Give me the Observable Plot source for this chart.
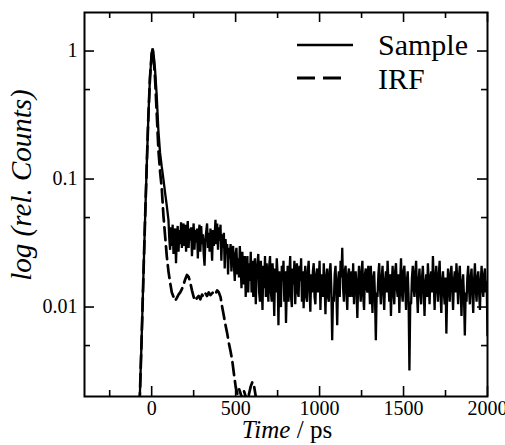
<!DOCTYPE html>
<html><head><meta charset="utf-8">
<script src="https://cdn.jsdelivr.net/npm/d3@7"></script>
<script src="https://cdn.jsdelivr.net/npm/@observablehq/plot@0.6"></script>
<style>body{margin:0;background:#fff}</style>
</head><body><div id="chart"></div>
<script>
// ---- data ----
const sampleTime = [-80,-70,-60,-50,-40,-30,-20,-10,0,5,10,20,30,40,50,60,70,80,90,100,
105,110,115,120,125,130,135,140,145,150,155,160,165,170,175,180,185,190,195,200,
205,210,215,220,225,230,235,240,245,250,255,260,265,270,275,280,285,290,295,300,
305,310,315,320,325,330,335,340,345,350,355,360,365,370,375,380,385,390,395,400,
405,410,415,420,425,430,435,440,445,450,455,460,465,470,475,480,485,490,495,500,
505,510,515,520,525,530,535,540,545,550,555,560,565,570,575,580,585,590,595,600,
605,610,615,620,625,630,635,640,645,650,655,660,665,670,675,680,685,690,695,700,
705,710,715,720,725,730,735,740,745,750,755,760,765,770,775,780,785,790,795,800,
805,810,815,820,825,830,835,840,845,850,855,860,865,870,875,880,885,890,895,900,
905,910,915,920,925,930,935,940,945,950,955,960,965,970,975,980,985,990,995,1000,
1005,1010,1015,1020,1025,1030,1035,1040,1045,1050,1055,1060,1065,1070,1075,1080,1085,1090,1095,1100,
1105,1110,1115,1120,1125,1130,1135,1140,1145,1150,1155,1160,1165,1170,1175,1180,1185,1190,1195,1200,
1205,1210,1215,1220,1225,1230,1235,1240,1245,1250,1255,1260,1265,1270,1275,1280,1285,1290,1295,1300,
1305,1310,1315,1320,1325,1330,1335,1340,1345,1350,1355,1360,1365,1370,1375,1380,1385,1390,1395,1400,
1405,1410,1415,1420,1425,1430,1435,1440,1445,1450,1455,1460,1465,1470,1475,1480,1485,1490,1495,1500,
1505,1510,1515,1520,1525,1530,1535,1540,1545,1550,1555,1560,1565,1570,1575,1580,1585,1590,1595,1600,
1605,1610,1615,1620,1625,1630,1635,1640,1645,1650,1655,1660,1665,1670,1675,1680,1685,1690,1695,1700,
1705,1710,1715,1720,1725,1730,1735,1740,1745,1750,1755,1760,1765,1770,1775,1780,1785,1790,1795,1800,
1805,1810,1815,1820,1825,1830,1835,1840,1845,1850,1855,1860,1865,1870,1875,1880,1885,1890,1895,1900,
1905,1910,1915,1920,1925,1930,1935,1940,1945,1950,1955,1960,1965,1970,1975,1980,1985,1990,1995,2000];
const sampleCounts = [0.0012,0.0021,0.0055,0.016,0.045,0.12,0.3,0.62,0.96,1.05,1.0,0.72,0.45,0.24,0.16,0.125,0.1,0.078,0.062,0.048,
0.034,0.028,0.042,0.03,0.044,0.026,0.038,0.041,0.022,0.035,0.043,0.027,0.04,0.031,0.046,0.029,0.037,0.045,0.03,0.044,
0.027,0.039,0.047,0.029,0.041,0.033,0.042,0.025,0.036,0.045,0.028,0.04,0.032,0.041,0.024,0.038,0.044,0.027,0.043,0.031,
0.037,0.026,0.021,0.034,0.039,0.045,0.029,0.038,0.027,0.041,0.033,0.023,0.04,0.03,0.036,0.048,0.031,0.045,0.028,0.042,
0.033,0.044,0.023,0.037,0.029,0.038,0.02,0.034,0.026,0.031,0.018,0.029,0.024,0.031,0.019,0.027,0.03,0.021,0.016,0.026,
0.029,0.018,0.024,0.017,0.03,0.021,0.014,0.027,0.019,0.015,0.025,0.012,0.02,0.025,0.013,0.022,0.016,0.027,0.013,0.023,
0.012,0.021,0.024,0.0105,0.018,0.022,0.026,0.013,0.011,0.023,0.017,0.0095,0.021,0.014,0.025,0.012,0.022,0.016,0.011,0.021,
0.025,0.013,0.011,0.022,0.016,0.0085,0.02,0.013,0.024,0.018,0.0072,0.019,0.012,0.01,0.021,0.016,0.023,0.011,0.019,0.0075,
0.014,0.021,0.011,0.018,0.025,0.012,0.01,0.02,0.015,0.023,0.0105,0.017,0.022,0.013,0.012,0.021,0.016,0.024,0.011,0.019,
0.0098,0.017,0.021,0.012,0.011,0.019,0.023,0.014,0.0092,0.018,0.013,0.019,0.022,0.012,0.0105,0.018,0.02,0.013,0.016,0.023,
0.0095,0.016,0.018,0.012,0.022,0.015,0.0088,0.017,0.02,0.012,0.011,0.019,0.022,0.014,0.0055,0.012,0.011,0.018,0.021,0.013,
0.0072,0.016,0.019,0.012,0.023,0.017,0.029,0.014,0.011,0.019,0.021,0.013,0.0095,0.018,0.02,0.012,0.015,0.019,0.012,0.022,
0.0105,0.017,0.019,0.013,0.0082,0.016,0.021,0.014,0.011,0.019,0.023,0.012,0.0095,0.018,0.02,0.014,0.013,0.021,0.016,0.0105,
0.021,0.014,0.009,0.017,0.019,0.012,0.0055,0.013,0.012,0.018,0.022,0.014,0.0105,0.017,0.021,0.013,0.0095,0.016,0.019,0.013,
0.023,0.016,0.011,0.018,0.0085,0.015,0.021,0.013,0.0105,0.019,0.022,0.014,0.012,0.018,0.009,0.016,0.024,0.013,0.011,0.019,
0.021,0.014,0.0095,0.016,0.019,0.012,0.0032,0.011,0.0105,0.017,0.021,0.014,0.012,0.019,0.023,0.013,0.009,0.016,0.02,0.013,
0.0105,0.017,0.021,0.014,0.0085,0.015,0.018,0.012,0.022,0.016,0.0105,0.017,0.019,0.013,0.025,0.016,0.0095,0.017,0.021,0.014,
0.011,0.018,0.023,0.013,0.009,0.016,0.019,0.013,0.0105,0.017,0.0062,0.013,0.02,0.015,0.011,0.018,0.021,0.014,0.0095,0.016,
0.019,0.013,0.022,0.016,0.0105,0.017,0.021,0.014,0.0085,0.015,0.018,0.012,0.006,0.013,0.011,0.017,0.021,0.014,0.0105,0.017,
0.02,0.013,0.009,0.016,0.022,0.014,0.011,0.017,0.019,0.013,0.0095,0.016,0.021,0.014,0.012,0.018,0.02,0.013,0.016,0.006];

const irfTime = [-80,-70,-60,-50,-40,-30,-20,-10,0,5,10,20,30,40,50,60,70,80,90,100,
110,120,130,140,150,160,170,180,190,200,210,220,230,240,250,260,270,280,290,
300,310,320,330,340,350,360,370,380,390,400,410,420,430,440,450,460,470,480,490,
500,510,520,530,540,550,560,570,580,590,600,610,620,630,640];
const irfCounts = [0.0012,0.0021,0.0055,0.016,0.045,0.12,0.3,0.62,0.95,1.0,0.94,0.62,0.33,0.17,0.115,0.085,0.052,0.036,0.025,0.019,
0.0155,0.013,0.012,0.0112,0.0118,0.0125,0.013,0.0138,0.015,0.0165,0.0178,0.0172,0.0155,0.0135,0.012,0.0112,0.0118,0.0122,0.0115,
0.0125,0.012,0.0128,0.0122,0.013,0.0124,0.0128,0.0132,0.0127,0.0135,0.013,0.012,0.01,0.0085,0.0072,0.0062,0.0052,0.0045,0.0038,0.003,
0.0024,0.0021,0.0023,0.0021,0.0019,0.0022,0.002,0.0018,0.0021,0.0024,0.0026,0.0024,0.002,0.0017,0.0015];

const xMajor = [0,500,1000,1500,2000];
const xMinor = [-250,250,750,1250,1750];
const yMajor = [0.01,0.1,1];
const yMinor = [0.005,0.05,0.5];

const sample = sampleTime.map((t,i)=>({t, v: sampleCounts[i]}));
const irf = irfTime.map((t,i)=>({t, v: irfCounts[i]}));

const W = 505, H = 445, mL = 84, mR = 18, mT = 12, mB = 49;
const iW = W - mL - mR, iH = H - mT - mB;
const majorLen = 10, minorLen = 6;
const serif = '"Liberation Serif", "Times New Roman", serif';

const plot = Plot.plot({
  width: W, height: H,
  marginLeft: mL, marginRight: mR, marginTop: mT, marginBottom: mB,
  style: {fontFamily: serif, fontSize: "20px", color: "black", background: "white"},
  x: {domain: [-400, 2000]},
  y: {type: "log", domain: [0.002, 2]},
  marks: [
    Plot.line(irf, {x: "t", y: "v", stroke: "black", strokeWidth: 2.7, strokeDasharray: "13,6", clip: true}),
    Plot.line(sample, {x: "t", y: "v", stroke: "black", strokeWidth: 2.3, strokeLinejoin: "miter", clip: true}),
    // inward ticks on all four sides
    Plot.tickX(xMajor, {x: d=>d, insetTop: iH - majorLen, strokeWidth: 1.6}),
    Plot.tickX(xMajor, {x: d=>d, insetBottom: iH - majorLen, strokeWidth: 1.6}),
    Plot.tickX(xMinor, {x: d=>d, insetTop: iH - minorLen, strokeWidth: 1.6}),
    Plot.tickX(xMinor, {x: d=>d, insetBottom: iH - minorLen, strokeWidth: 1.6}),
    Plot.tickY(yMajor, {y: d=>d, insetRight: iW - majorLen, strokeWidth: 1.6}),
    Plot.tickY(yMajor, {y: d=>d, insetLeft: iW - majorLen, strokeWidth: 1.6}),
    Plot.tickY(yMinor, {y: d=>d, insetRight: iW - minorLen, strokeWidth: 1.6}),
    Plot.tickY(yMinor, {y: d=>d, insetLeft: iW - minorLen, strokeWidth: 1.6}),
    Plot.axisX({ticks: xMajor, tickSize: 0, tickPadding: 4, tickFormat: d => String(d), label: null}),
    Plot.axisY({ticks: yMajor, tickSize: 0, tickPadding: 7, tickFormat: d => String(d), label: null}),
    Plot.frame({stroke: "black", strokeWidth: 2})
  ]
});

const svg = d3.select(plot);
// axis titles
const xt = svg.append("text").attr("x", 287).attr("y", 438).attr("text-anchor", "middle")
  .style("font-family", serif).attr("font-size", 25).attr("fill", "black");
xt.append("tspan").attr("font-style", "italic").text("Time");
xt.append("tspan").text(" / ps");
svg.append("text").attr("transform", "translate(31,185) rotate(-90)").attr("text-anchor", "middle")
  .style("font-family", serif).attr("font-size", 29).attr("font-style", "italic").attr("fill", "black")
  .text("log (rel. Counts)");
// legend
svg.append("line").attr("x1", 297).attr("x2", 353).attr("y1", 45).attr("y2", 45).attr("stroke", "black").attr("stroke-width", 2.4);
svg.append("text").attr("x", 378).attr("y", 55).attr("text-anchor", "start").style("font-family", serif).attr("font-size", 30).attr("fill", "black").text("Sample");
svg.append("line").attr("x1", 297).attr("x2", 342).attr("y1", 78).attr("y2", 78).attr("stroke", "black").attr("stroke-width", 2.8).attr("stroke-dasharray", "18,8");
svg.append("text").attr("x", 378).attr("y", 89).attr("text-anchor", "start").style("font-family", serif).attr("font-size", 30).attr("fill", "black").text("IRF");

document.getElementById("chart").appendChild(plot);
</script></body></html>
